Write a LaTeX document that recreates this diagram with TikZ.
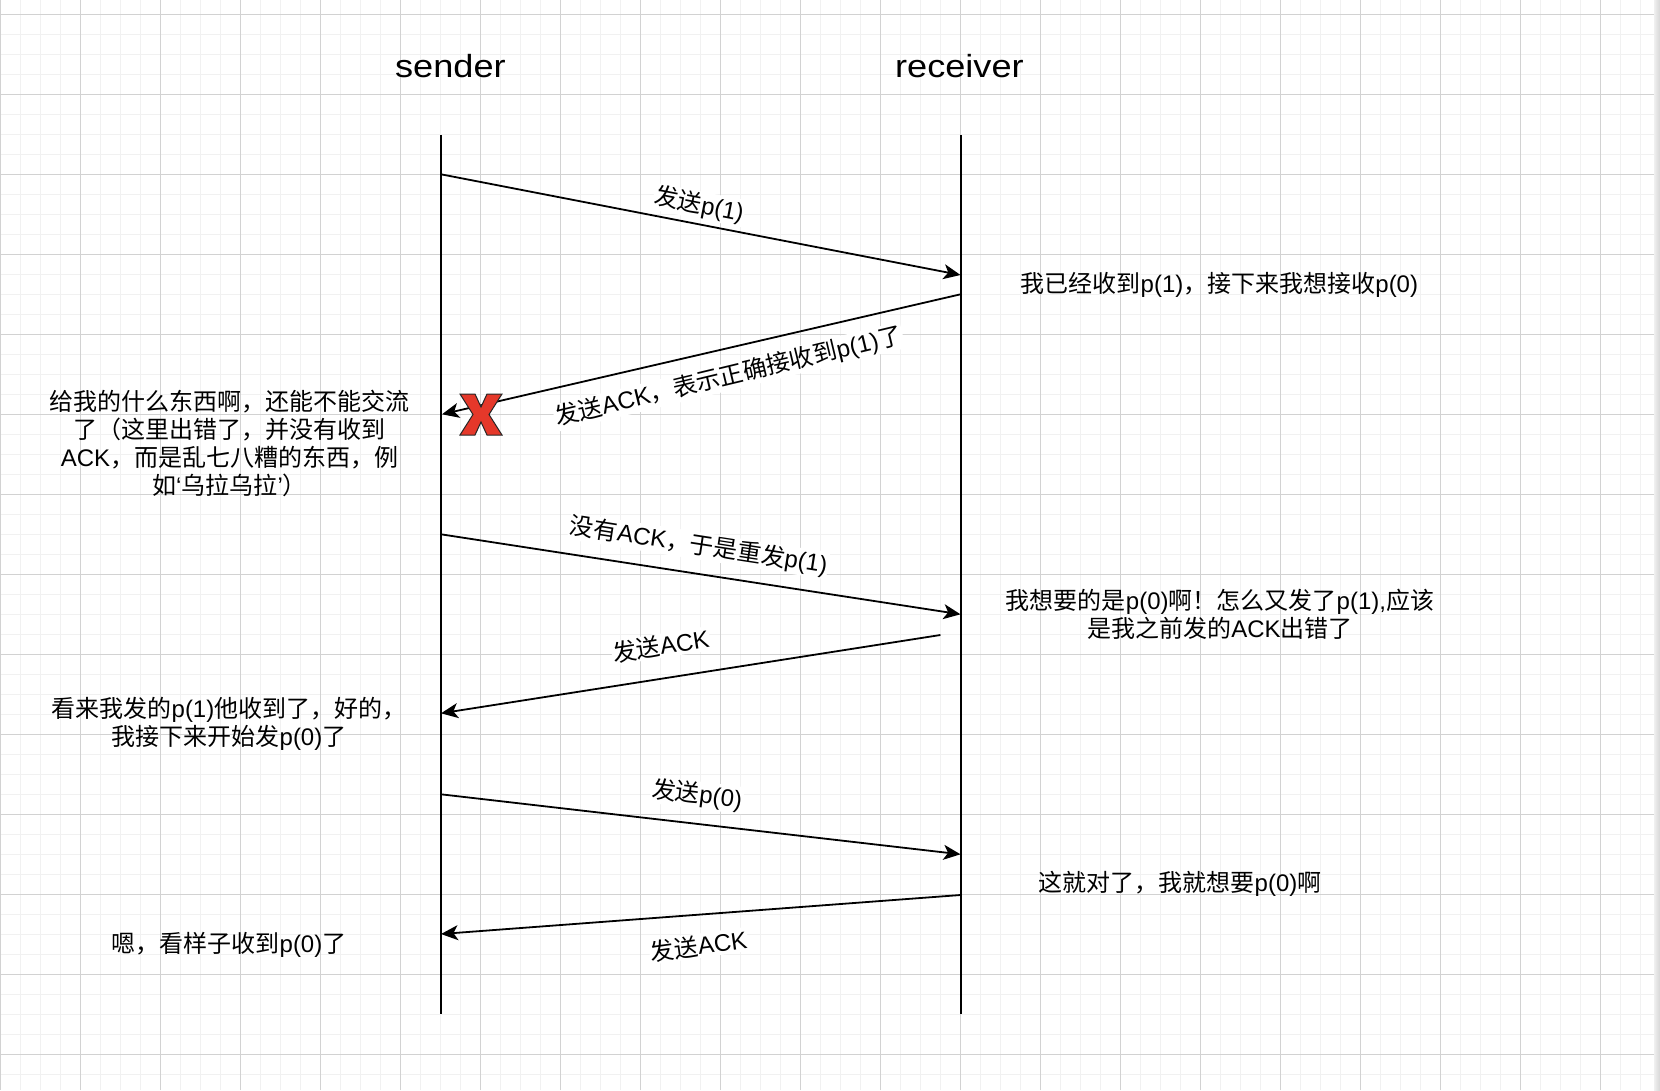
\documentclass[tikz,border=0pt]{standalone}
\usepackage{fontspec}
\setmainfont{Liberation Sans}
\newfontfamily\cjk{Noto Sans CJK SC}
\usetikzlibrary{arrows.meta}
\newcommand\zhtxt[1]{{\cjk #1}}
\definecolor{gridminor}{HTML}{F1F1F1}
\definecolor{gridmajor}{HTML}{D2D2D2}
\definecolor{xred}{HTML}{E5382A}
\begin{document}
\begin{tikzpicture}[x=1pt,y=-1pt,
  lifeline/.style={line width=2pt,black},
  msg/.style={line width=1.8pt,-{Stealth[length=17pt,width=15pt,inset=4.5pt]}},
  txt/.style={inner sep=0pt,font=\fontsize{24}{28}\selectfont,align=center},
  lbl/.style={txt,fill=white,inner sep=1pt},
  head/.style={inner sep=0pt,font=\fontsize{32}{38}\selectfont,xscale=1.13,anchor=base},
  xmark/.style={fill=xred,draw=black!85,line width=1pt,line join=miter}
]
\useasboundingbox (0,0) rectangle (1660,1090);
\fill[white] (0,0) rectangle (1660,1090);
% grid
\foreach \i in {0,...,82} \draw[gridminor,line width=1.5pt] ({0.4+20*\i},0) -- ({0.4+20*\i},1090);
\foreach \j in {-1,...,53} \draw[gridminor,line width=1.5pt] (0,{14.3+20*\j}) -- (1654,{14.3+20*\j});
\foreach \i in {0,...,20} \draw[gridmajor,line width=1pt] ({0.4+80*\i},0) -- ({0.4+80*\i},1090);
\foreach \j in {0,...,13} \draw[gridmajor,line width=1pt] (0,{14.3+80*\j}) -- (1654,{14.3+80*\j});
\shade[left color=black!6,right color=black!16] (1654,0) rectangle (1660,1090);

% headers
\node[head] (sender) at (450.4,77.3) {sender};
\node[head] (receiver) at (959.4,77.3) {receiver};

% lifelines
\coordinate (sTop) at (441,135);
\coordinate (sBot) at (441,1014);
\coordinate (rTop) at (960.5,135);
\coordinate (rBot) at (960.5,1014);
\draw[lifeline] (sTop) -- (sBot);
\draw[lifeline] (rTop) -- (rBot);

% message end points
\coordinate (a1s) at (441,174.3);   \coordinate (a1e) at (960.5,275);
\coordinate (a2s) at (960.5,294.3); \coordinate (a2e) at (442,414.3);
\coordinate (a3s) at (441,534.3);   \coordinate (a3e) at (960.5,614.3);
\coordinate (a4s) at (940.4,635);   \coordinate (a4e) at (441,713.3);
\coordinate (a5s) at (441,794.3);   \coordinate (a5e) at (960.5,854.3);
\coordinate (a6s) at (960.5,895);   \coordinate (a6e) at (441,934);

\draw[msg] (a1s) -- (a1e);
\draw[msg] (a2s) -- (a2e);
\draw[msg] (a3s) -- (a3e);
\draw[msg] (a4s) -- (a4e);
\draw[msg] (a5s) -- (a5e);
\draw[msg] (a6s) -- (a6e);

% red X
\begin{scope}[shift={(460,394)}]
\filldraw[xmark] (0,0) -- (15,0) -- (21,13) -- (27,0) -- (42,0) -- (29,20.5) -- (42,41) -- (27,41) -- (21,28) -- (15,41) -- (0,41) -- (13,20.5) -- cycle;
\end{scope}

% message labels
\node[lbl,rotate=-11] (m1) at (699,205) {\zhtxt{发送}p(1)};
\node[lbl,rotate=13.5] (m2) at (728.6,376.7) {\zhtxt{发送}ACK\zhtxt{，表示正确接收到}p(1)\zhtxt{了}};
\node[lbl,rotate=-8.8] (m3) at (698.6,545.8) {\zhtxt{没有}ACK\zhtxt{，于是重发}p(1)};
\node[lbl,rotate=8.9] (m4) at (660.7,645.8) {\zhtxt{发送}ACK};
\node[lbl,rotate=-7] (m5) at (697,795) {\zhtxt{发送}p(0)};
\node[lbl,rotate=8] (m6) at (698.6,945.8) {\zhtxt{发送}ACK};

% receiver notes
\node[txt] (r1) at (1219.4,285) {\zhtxt{我已经收到}p(1)\zhtxt{，接下来我想接收}p(0)};
\node[txt] (r2) at (1220,614.3) {\zhtxt{我想要的是}p(0)\zhtxt{啊！怎么又发了}p(1),\zhtxt{应该}\\\zhtxt{是我之前发的}ACK\zhtxt{出错了}};
\node[txt] (r3) at (1180,884) {\zhtxt{这就对了，我就想要}p(0)\zhtxt{啊}};

% sender notes
\node[txt] (l1) at (229.5,443.5) {\zhtxt{给我的什么东西啊，还能不能交流}\\\zhtxt{了（这里出错了，并没有收到}\\ACK\zhtxt{，而是乱七八糟的东西，例}\\\zhtxt{如}‘\zhtxt{乌拉乌拉}’\zhtxt{）}};
\node[txt] (l2) at (229,724.2) {\zhtxt{看来我发的}p(1)\zhtxt{他收到了，好的，}\\\zhtxt{我接下来开始发}p(0)\zhtxt{了}};
\node[txt] (l3) at (229,945) {\zhtxt{嗯，看样子收到}p(0)\zhtxt{了}};
\end{tikzpicture}
\end{document}
